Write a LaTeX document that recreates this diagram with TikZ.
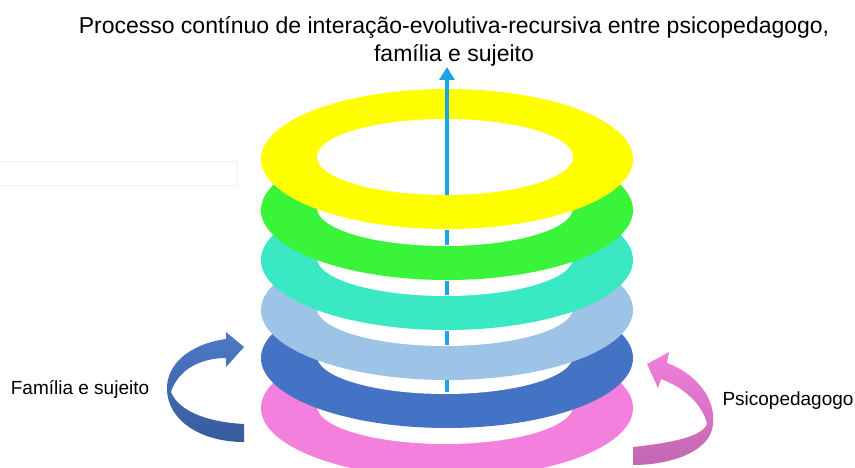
\documentclass[tikz,border=0pt]{standalone}
\usepackage{fontspec}
\setmainfont{Liberation Sans}
\usetikzlibrary{arrows.meta}
\definecolor{ringyellow}{HTML}{FFFF00}
\definecolor{ringgreen}{HTML}{3AF43A}
\definecolor{ringteal}{HTML}{3AE8C4}
\definecolor{ringlight}{HTML}{9DC3E6}
\definecolor{ringdark}{HTML}{4472C4}
\definecolor{ringpink}{HTML}{F280DC}
\definecolor{axisblue}{HTML}{1BA3E6}
\begin{document}
\begin{tikzpicture}[x=1pt,y=-1pt,
    caption/.style ={inner sep=0pt, font=\fontsize{23}{27}\selectfont, anchor=base},
    side/.style ={inner sep=0pt, font=\fontsize{19}{23}\selectfont},
    axisline/.style ={line width=3.5pt, draw=axisblue},
    axis/.style ={axisline, -{Triangle[length=13pt,width=15pt]}}]
   \clip (0,0) rectangle (855,468);
   % faint empty box on the left
   \draw[black!6] (-2,161) rectangle (237,185);
   % rings, from the bottom up
   \foreach \cy/\col in {408/ringpink,358/ringdark,310/ringlight,260/ringteal,210/ringgreen,159/ringyellow}{
     \fill[\col] (447,\cy) ellipse [x radius=186pt, y radius=70pt];
     \fill[white] (445,\cy-2) ellipse [x radius=128pt, y radius=38pt];
   }
   % axis: top part, then the bits seen through the holes
   \coordinate (axisbase) at (447,195);
   \coordinate (axistip) at (447,67);
   \draw[axis] (axisbase) -- (axistip);
   \foreach \ya/\yb in {392/380,345/331,295/281,245/230}{
     \draw[axisline] (447,\ya) -- (447,\yb);
   }
   % turning arrows
   \shade[top color=ringdark!95!white, bottom color=ringdark!80!black]
     (244,424) .. controls (205,422) and (178,410) .. (171,392)
     .. controls (178,370) and (200,358) .. (226,358)
     -- (226,367) -- (244,347) -- (226,332) -- (226,339)
     .. controls (190,344) and (166,364) .. (167,390)
     .. controls (168,420) and (200,442) .. (244,442) -- cycle;
   \shade[top color=ringpink, bottom color=ringpink!80!black]
     (633,447) .. controls (670,443) and (702,437) .. (707,424)
     .. controls (703,405) and (685,388) .. (661,379)
     -- (658,388) -- (647,364) -- (669,352) -- (667,363)
     .. controls (692,372) and (716,395) .. (713,424)
     .. controls (711,452) and (670,465) .. (633,465) -- cycle;
   % texts
   \node[caption] (title) at (454,34) {Processo contínuo de interação-evolutiva-recursiva entre psicopedagogo,};
   \node[caption] (subtitle) at ([yshift=-28pt]title.base) {família e sujeito};
   \node[side] (family) at (80,389) {Família e sujeito};
   \node[side] (psico) at (788,401) {Psicopedagogo};
\end{tikzpicture}
\end{document}
